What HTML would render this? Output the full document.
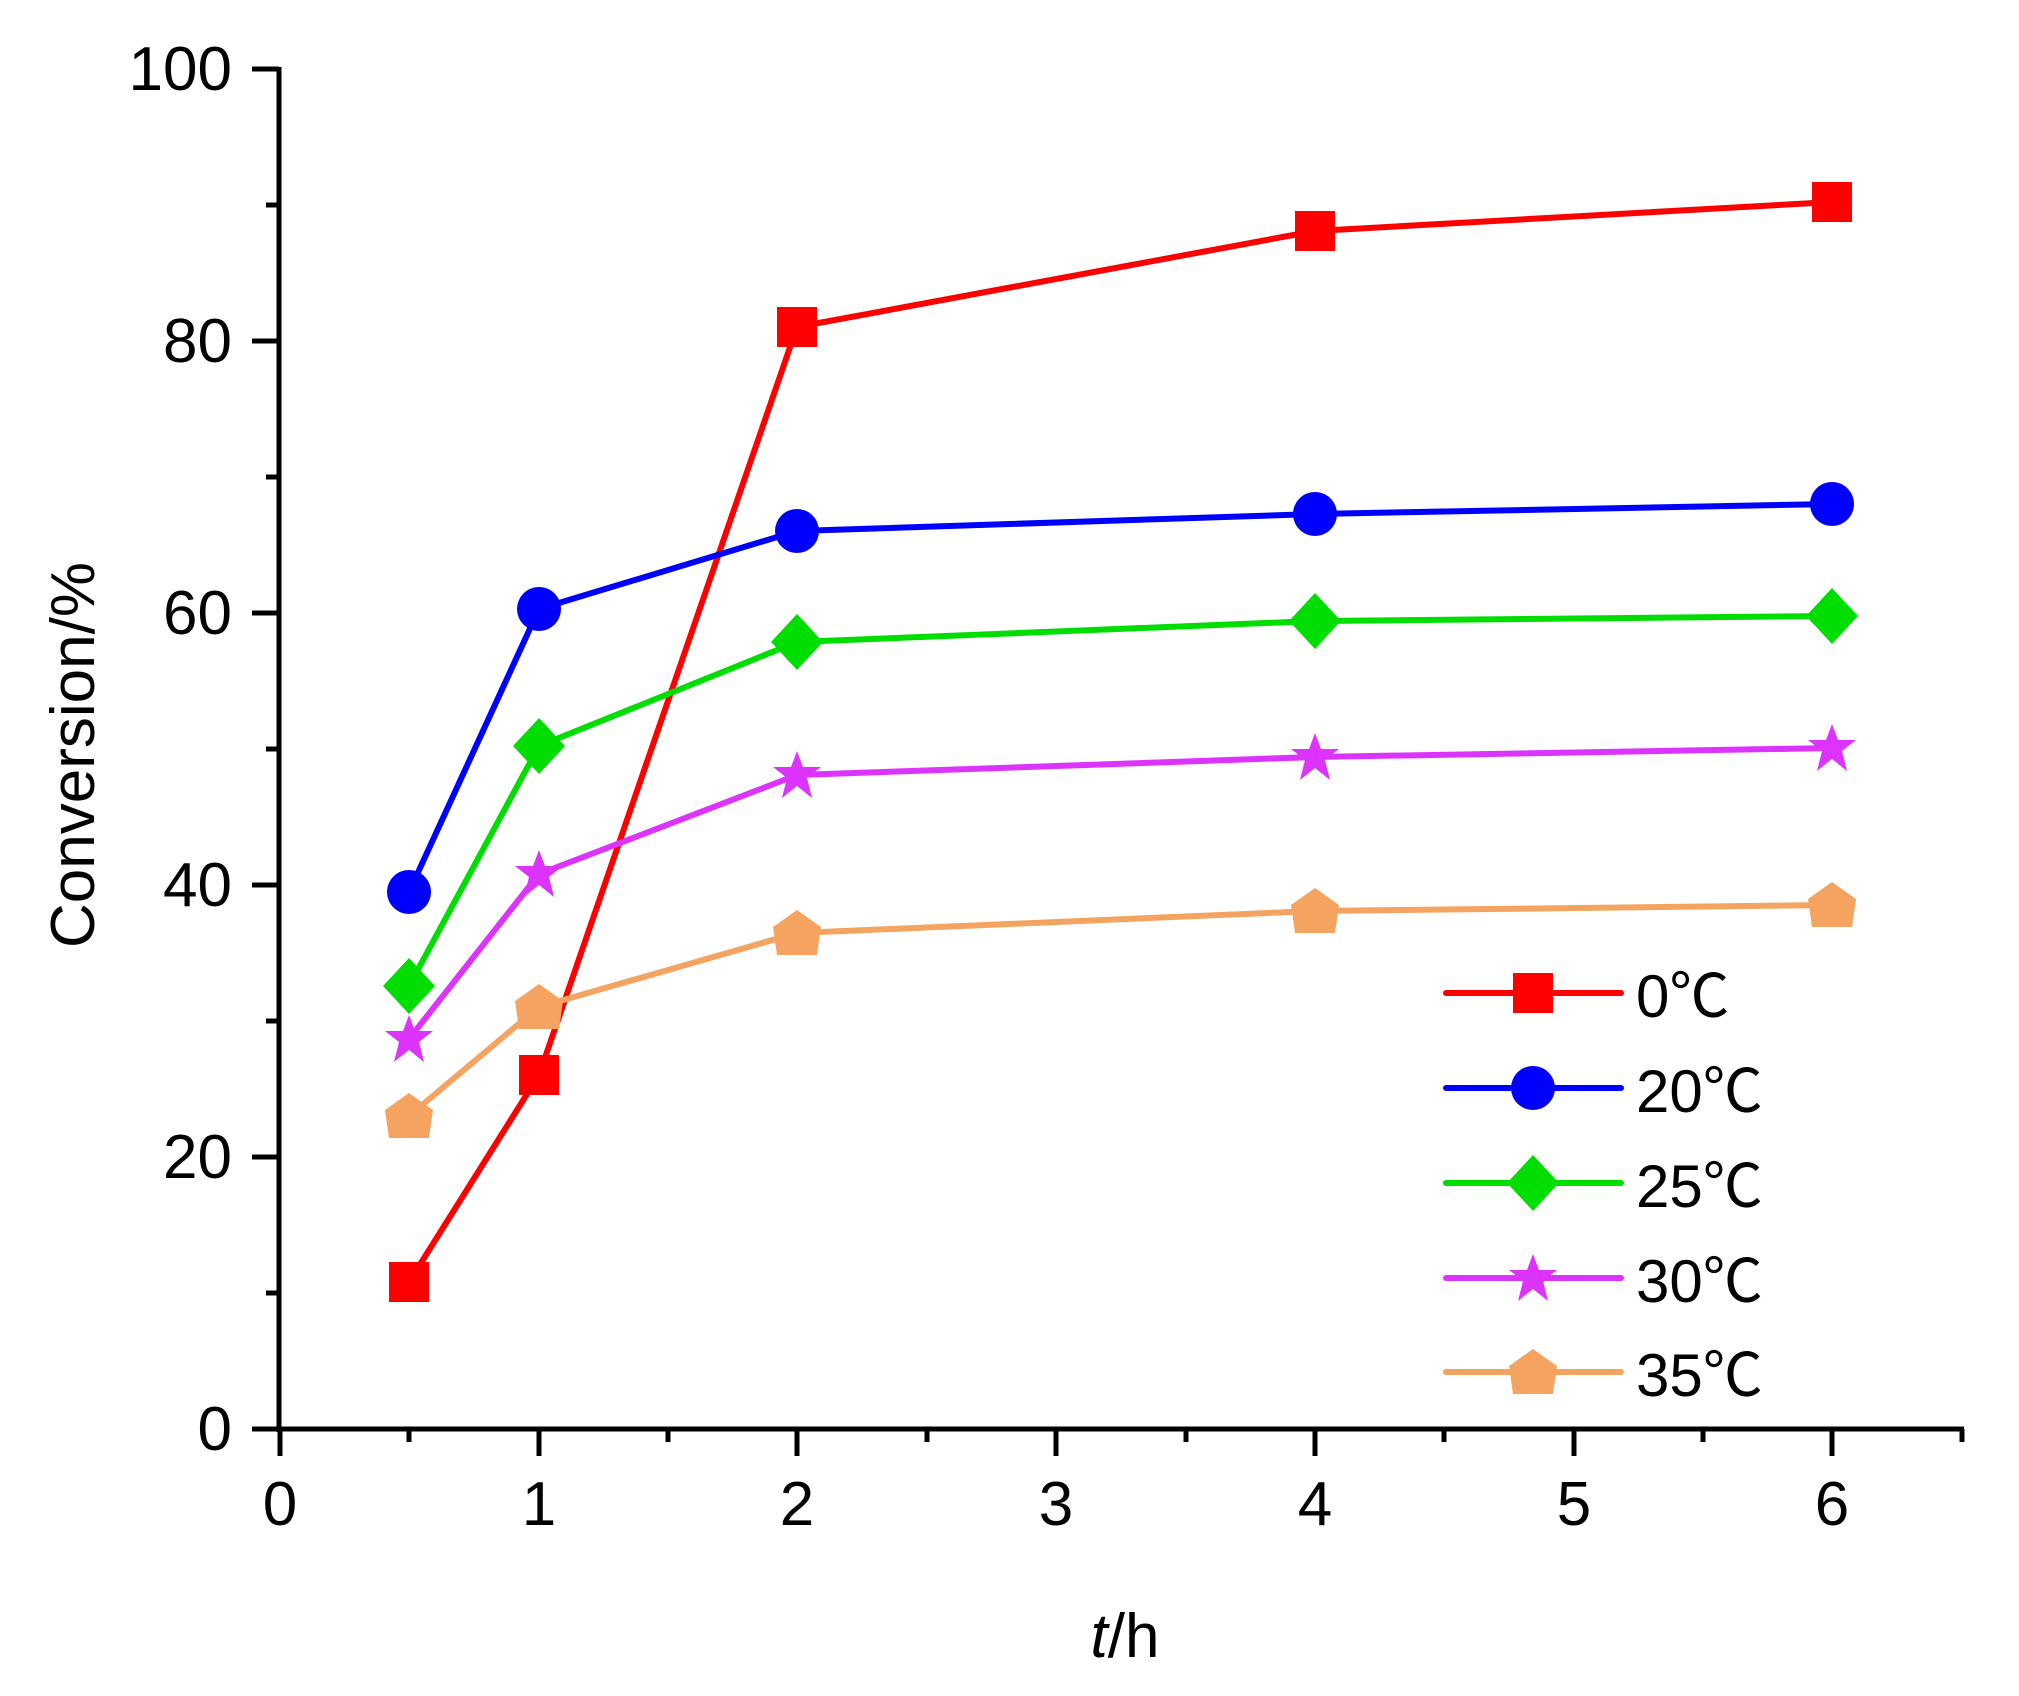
<!DOCTYPE html>
<html><head><meta charset="utf-8"><style>
html,body{margin:0;padding:0;background:#fff;}
svg{display:block;}
text{font-family:"Liberation Sans","Noto Sans CJK SC",sans-serif;fill:#000;}
</style></head><body>
<svg width="2019" height="1696" viewBox="0 0 2019 1696" xmlns="http://www.w3.org/2000/svg">
<defs>
<rect id="sq" x="-20" y="-20" width="40" height="40" fill="#ff0000"/>
<circle id="ci" r="22" fill="#0000ff"/>
<polygon id="di" points="0,-28 26,0 0,28 -26,0" fill="#00dd00"/>
<polygon id="st" points="0,-24 6,-8 24,-8 10,3 15,23 0,11 -15,23 -10,3 -24,-8 -6,-8" fill="#dd33ff"/>
<polygon id="pe" points="0,-23 24,-6 20,22 -20,22 -24,-6" fill="#f4a460"/>
</defs>
<g stroke="#000" stroke-width="5" fill="none">
<line x1="279" y1="67" x2="279" y2="1432"/>
<line x1="277" y1="1429" x2="1964" y2="1429"/>
<line x1="252" y1="69" x2="279" y2="69"/>
<line x1="266" y1="205" x2="279" y2="205"/>
<line x1="252" y1="341" x2="279" y2="341"/>
<line x1="266" y1="477" x2="279" y2="477"/>
<line x1="252" y1="613" x2="279" y2="613"/>
<line x1="266" y1="749" x2="279" y2="749"/>
<line x1="252" y1="885" x2="279" y2="885"/>
<line x1="266" y1="1021" x2="279" y2="1021"/>
<line x1="252" y1="1157" x2="279" y2="1157"/>
<line x1="266" y1="1293" x2="279" y2="1293"/>
<line x1="252" y1="1429" x2="279" y2="1429"/>
<line x1="280" y1="1429" x2="280" y2="1456"/>
<line x1="409" y1="1429" x2="409" y2="1442"/>
<line x1="539" y1="1429" x2="539" y2="1456"/>
<line x1="668" y1="1429" x2="668" y2="1442"/>
<line x1="797" y1="1429" x2="797" y2="1456"/>
<line x1="927" y1="1429" x2="927" y2="1442"/>
<line x1="1056" y1="1429" x2="1056" y2="1456"/>
<line x1="1186" y1="1429" x2="1186" y2="1442"/>
<line x1="1315" y1="1429" x2="1315" y2="1456"/>
<line x1="1444" y1="1429" x2="1444" y2="1442"/>
<line x1="1574" y1="1429" x2="1574" y2="1456"/>
<line x1="1703" y1="1429" x2="1703" y2="1442"/>
<line x1="1832" y1="1429" x2="1832" y2="1456"/>
<line x1="1962" y1="1429" x2="1962" y2="1442"/>
</g>
<g font-size="62" text-anchor="end">
<text x="232" y="90">100</text>
<text x="232" y="362">80</text>
<text x="232" y="634">60</text>
<text x="232" y="906">40</text>
<text x="232" y="1178">20</text>
<text x="232" y="1450">0</text>
</g>
<g font-size="62" text-anchor="middle">
<text x="280" y="1525">0</text>
<text x="539" y="1525">1</text>
<text x="797" y="1525">2</text>
<text x="1056" y="1525">3</text>
<text x="1315" y="1525">4</text>
<text x="1574" y="1525">5</text>
<text x="1832" y="1525">6</text>
</g>
<text x="1125" y="1657" font-size="62" text-anchor="middle"><tspan font-style="italic">t</tspan>/h</text>
<text transform="translate(94,755) rotate(-90)" font-size="62" text-anchor="middle">Conversion/%</text>
<g fill="none" stroke-width="6" stroke-linejoin="round">
<polyline stroke="#ff0000" points="409,1282 539,1075 797,327 1315,231 1832,202"/>
<polyline stroke="#0000ff" points="409,892 539,609 797,531 1315,514 1832,504"/>
<polyline stroke="#00dd00" points="409,986 539,746 797,642 1315,621 1832,616"/>
<polyline stroke="#dd33ff" points="409,1039 539,874 797,775 1315,757 1832,748"/>
<polyline stroke="#f4a460" points="409,1116 539,1007 797,933 1315,911 1832,905"/>
</g>
<g>
<use href="#pe" x="409" y="1116"/><use href="#pe" x="539" y="1007"/><use href="#pe" x="797" y="933"/><use href="#pe" x="1315" y="911"/><use href="#pe" x="1832" y="905"/>
<use href="#st" x="409" y="1039"/><use href="#st" x="539" y="874"/><use href="#st" x="797" y="775"/><use href="#st" x="1315" y="757"/><use href="#st" x="1832" y="748"/>
<use href="#di" x="409" y="986"/><use href="#di" x="539" y="746"/><use href="#di" x="797" y="642"/><use href="#di" x="1315" y="621"/><use href="#di" x="1832" y="616"/>
<use href="#ci" x="409" y="892"/><use href="#ci" x="539" y="609"/><use href="#ci" x="797" y="531"/><use href="#ci" x="1315" y="514"/><use href="#ci" x="1832" y="504"/>
<use href="#sq" x="409" y="1282"/><use href="#sq" x="539" y="1075"/><use href="#sq" x="797" y="327"/><use href="#sq" x="1315" y="231"/><use href="#sq" x="1832" y="202"/>
</g>
<g stroke-width="6" stroke-linecap="round">
<line x1="1446" y1="993" x2="1621" y2="993" stroke="#ff0000"/>
<line x1="1446" y1="1088" x2="1621" y2="1088" stroke="#0000ff"/>
<line x1="1446" y1="1183" x2="1621" y2="1183" stroke="#00dd00"/>
<line x1="1446" y1="1278" x2="1621" y2="1278" stroke="#dd33ff"/>
<line x1="1446" y1="1372" x2="1621" y2="1372" stroke="#f4a460"/>
</g>
<use href="#sq" x="1533" y="993"/>
<use href="#ci" x="1533" y="1088"/>
<use href="#di" x="1533" y="1183"/>
<use href="#st" x="1533" y="1278"/>
<use href="#pe" x="1533" y="1372"/>
<g font-size="60">
<text x="1636" y="1017">0℃</text>
<text x="1636" y="1112">20℃</text>
<text x="1636" y="1207">25℃</text>
<text x="1636" y="1302">30℃</text>
<text x="1636" y="1396">35℃</text>
</g>
</svg>
</body></html>
